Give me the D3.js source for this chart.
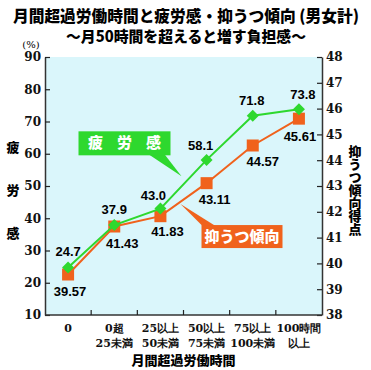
<!DOCTYPE html>
<html>
<head>
<meta charset="utf-8">
<script src="https://cdn.jsdelivr.net/npm/d3@7"></script>
<style>
  body { margin: 0; background: #fff; }
  svg { display: block; }
</style>
</head>
<body>
<div id="chart"></div>
<script>
// data
const categories = ["0", "0超\n25未満", "25以上\n50未満", "50以上\n75未満", "75以上\n100未満", "100時間\n以上"];
const fatigue = [24.7, 37.9, 43.0, 58.1, 71.8, 73.8];
const depression = [39.57, 41.43, 41.83, 43.11, 44.57, 45.61];
const leftTicks = [10, 20, 30, 40, 50, 60, 70, 80, 90];
const rightTicks = [38, 39, 40, 41, 42, 43, 44, 45, 46, 47, 48];

// label nudges (px) for the value labels
const fatigueNudge = [[0, -15], [0, -14], [-7, -12], [-6, -13], [-1, -14], [4, -14]];
const depNudge = [[2, 18], [8, 18], [7, 16], [8, 17], [10, 17], [1, 19]];

const width = 371, height = 370;
const margin = { top: 57, right: 49, bottom: 55, left: 45 };
const plotW = width - margin.left - margin.right;
const plotH = height - margin.top - margin.bottom;

const svg = d3.select("#chart").append("svg")
    .attr("width", width)
    .attr("height", height);

const green = "#2ed82e";
const orange = "#f0621c";
const sans = "'Noto Sans CJK JP', 'Noto Sans', sans-serif";
const serif = "'DejaVu Serif', 'Liberation Serif', serif";

// titles
svg.append("text")
    .attr("x", 186).attr("y", 22)
    .attr("text-anchor", "middle")
    .attr("textLength", 346).attr("lengthAdjust", "spacingAndGlyphs")
    .style("font-family", sans).style("font-weight", 900)
    .style("font-size", "16px")
    .text("月間超過労働時間と疲労感・抑うつ傾向 (男女計)");

svg.append("text")
    .attr("x", 186).attr("y", 42)
    .attr("text-anchor", "middle")
    .attr("textLength", 240).attr("lengthAdjust", "spacingAndGlyphs")
    .style("font-family", sans).style("font-weight", 900)
    .style("font-size", "15px")
    .text("～月50時間を超えると増す負担感～");

const g = svg.append("g")
    .attr("transform", `translate(${margin.left},${margin.top})`);

// scales
const x = d3.scaleBand().domain(categories).range([0, plotW]).padding(0);
const yL = d3.scaleLinear().domain([10, 90]).range([plotH, 0]);
const yR = d3.scaleLinear().domain([38, 48]).range([plotH, 0]);
const cx = (d, i) => x(categories[i]) + x.bandwidth() / 2;

// plot background
g.append("rect")
    .attr("width", plotW).attr("height", plotH)
    .attr("fill", "#daf6fb");

// axes
const axL = g.append("g")
    .call(d3.axisLeft(yL).tickValues(leftTicks).tickSize(-5).tickSizeOuter(0).tickPadding(4));
const axR = g.append("g")
    .attr("transform", `translate(${plotW},0)`)
    .call(d3.axisRight(yR).tickValues(rightTicks).tickSize(-5).tickSizeOuter(0).tickPadding(4));

[axL, axR].forEach(a => {
    a.selectAll("text")
        .style("font-family", serif).style("font-weight", "bold")
        .style("font-size", "12px").attr("fill", "#111");
    a.selectAll("line").attr("stroke", "#222").attr("stroke-width", 1.2);
    a.select(".domain").attr("stroke", "#333").attr("stroke-width", 1.5);
});

// bottom axis with ticks at category boundaries
g.append("line")
    .attr("x1", 0).attr("x2", plotW)
    .attr("y1", plotH).attr("y2", plotH)
    .attr("stroke", "#333").attr("stroke-width", 1.5);

g.selectAll("line.xtick")
    .data(categories.slice(1))
    .enter().append("line")
    .attr("class", "xtick")
    .attr("x1", d => x(d)).attr("x2", d => x(d))
    .attr("y1", plotH).attr("y2", plotH - 5)
    .attr("stroke", "#222").attr("stroke-width", 1.2);

const xl = g.selectAll("text.xlab")
    .data(categories)
    .enter().append("text")
    .attr("class", "xlab")
    .attr("text-anchor", "middle")
    .attr("transform", d => `translate(${x(d) + x.bandwidth() / 2},${plotH + 17})`)
    .style("font-family", serif).style("font-weight", "bold")
    .style("font-size", "11px").attr("fill", "#111");

xl.selectAll("tspan")
    .data(d => d.split("\n"))
    .enter().append("tspan")
    .attr("x", 0)
    .attr("dy", (d, i) => i === 0 ? 0 : 15)
    .text(d => d);

g.append("text")
    .attr("x", plotW / 2).attr("y", plotH + 50)
    .attr("text-anchor", "middle")
    .style("font-family", sans).style("font-weight", 900)
    .style("font-size", "13px")
    .text("月間超過労働時間");

// axis titles
svg.append("text")
    .attr("x", 31).attr("y", 48)
    .attr("text-anchor", "middle")
    .style("font-family", serif).style("font-size", "10px")
    .text("(%)");

["疲", "労", "感"].forEach((c, i) => {
    svg.append("text")
        .attr("x", 13).attr("y", 152 + i * 43)
        .attr("text-anchor", "middle")
        .style("font-family", sans).style("font-weight", 900)
        .style("font-size", "13px")
        .text(c);
});

svg.append("text")
    .attr("transform", "translate(355,145)")
    .style("font-family", sans).style("font-weight", 900)
    .style("font-size", "13px")
    .style("writing-mode", "vertical-rl")
    .text("抑うつ傾向得点");

// depression line (right axis)
const lineR = d3.line().x(cx).y(d => yR(d));
g.append("path")
    .datum(depression)
    .attr("fill", "none").attr("stroke", orange).attr("stroke-width", 2)
    .attr("d", lineR);

g.selectAll("rect.dep")
    .data(depression)
    .enter().append("rect")
    .attr("class", "dep")
    .attr("x", (d, i) => cx(d, i) - 6).attr("y", d => yR(d) - 6)
    .attr("width", 12).attr("height", 12)
    .attr("fill", orange);

// fatigue line (left axis)
const lineL = d3.line().x(cx).y(d => yL(d));
g.append("path")
    .datum(fatigue)
    .attr("fill", "none").attr("stroke", green).attr("stroke-width", 2)
    .attr("d", lineL);

g.selectAll("path.fat")
    .data(fatigue)
    .enter().append("path")
    .attr("class", "fat")
    .attr("transform", (d, i) => `translate(${cx(d, i)},${yL(d)})`)
    .attr("d", "M0,-6L6,0L0,6L-6,0Z")
    .attr("fill", green);

// value labels
g.selectAll("text.fatlab")
    .data(fatigue)
    .enter().append("text")
    .attr("class", "fatlab")
    .attr("x", (d, i) => cx(d, i) + fatigueNudge[i][0])
    .attr("y", (d, i) => yL(d) + fatigueNudge[i][1])
    .attr("text-anchor", "middle")
    .attr("dominant-baseline", "middle")
    .style("font-family", "'Liberation Sans', Arial, sans-serif")
    .style("font-weight", "bold").style("font-size", "13px")
    .text(d => d.toFixed(1));

g.selectAll("text.deplab")
    .data(depression)
    .enter().append("text")
    .attr("class", "deplab")
    .attr("x", (d, i) => cx(d, i) + depNudge[i][0])
    .attr("y", (d, i) => yR(d) + depNudge[i][1])
    .attr("text-anchor", "middle")
    .attr("dominant-baseline", "middle")
    .style("font-family", "'Liberation Sans', Arial, sans-serif")
    .style("font-weight", "bold").style("font-size", "13px")
    .text(d => d.toFixed(2));

// callout boxes, tips anchored between the 25-50 and 50-75 points
const tipX = x(categories[3]);
const tipG = [tipX - 2, yL(53)];
const tipO = [tipX - 3, yR(42.3)];

function callout(box, tail, tip, fill, label, spacing) {
    const [bx, by, bw, bh] = box;
    g.append("path")
        .attr("d", `M${tail[0]},${tail[1]}L${tip[0]},${tip[1]}L${tail[2]},${tail[3]}Z`)
        .attr("fill", fill);
    g.append("rect")
        .attr("x", bx).attr("y", by).attr("width", bw).attr("height", bh)
        .attr("fill", fill);
    g.append("text")
        .attr("x", bx + bw / 2 + spacing / 2).attr("y", by + bh / 2 + 1)
        .attr("text-anchor", "middle")
        .attr("dominant-baseline", "middle")
        .attr("letter-spacing", spacing)
        .style("font-family", sans).style("font-weight", 900)
        .style("font-size", "15px").attr("fill", "#fff")
        .text(label);
}

const gb = [tipG[0] - 103, tipG[1] - 45, 92, 24];
callout(gb, [gb[0] + 70, gb[1] + gb[3] - 1, gb[0] + 86, gb[1] + gb[3] - 1], tipG, green, "疲労感", 14);

const ob = [tipO[0] + 21, tipO[1] + 21, 81, 23];
callout(ob, [ob[0] + 1, ob[1] + 1, ob[0] + 14, ob[1] + 1], tipO, orange, "抑うつ傾向", 0);
</script>
</body>
</html>
